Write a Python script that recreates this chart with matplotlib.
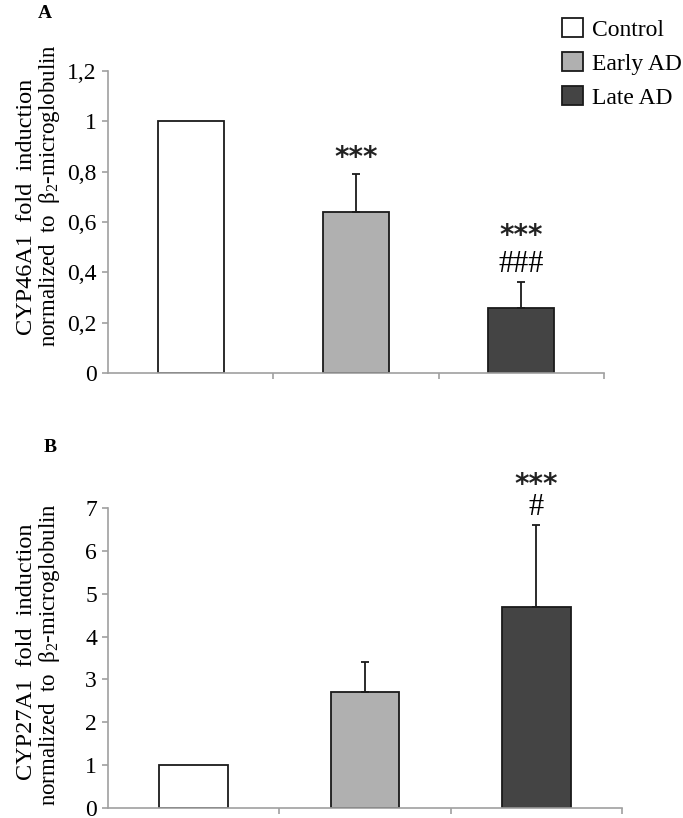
import matplotlib
matplotlib.use("Agg")
import matplotlib.pyplot as plt
from matplotlib.patches import Patch

plt.rcParams['font.family'] = ['Liberation Serif', 'DejaVu Serif']
plt.rcParams['mathtext.default'] = 'regular'

# %% data
groups = ["Control", "Early AD", "Late AD"]
colors = ["#ffffff", "#b0b0b0", "#444444"]

cyp46_mean = [1.0, 0.64, 0.26]
cyp46_err = [0.0, 0.15, 0.10]
cyp46_stars = ["", "***", "***"]
cyp46_hash = ["", "", "###"]
cyp46_ticks = [0, 0.2, 0.4, 0.6, 0.8, 1.0, 1.2]
cyp46_ticklabels = ["0", "0,2", "0,4", "0,6", "0,8", "1", "1,2"]

cyp27_mean = [1.0, 2.7, 4.7]
cyp27_err = [0.0, 0.7, 1.9]
cyp27_stars = ["", "", "***"]
cyp27_hash = ["", "", "#"]
cyp27_ticks = [0, 1, 2, 3, 4, 5, 6, 7]
cyp27_ticklabels = ["0", "1", "2", "3", "4", "5", "6", "7"]

W, H = 683, 818
axis_grey = "#a0a0a0"


def panel(rect, means, errs, stars, hashes, ticks, ticklabels, letter, letter_xy,
          ylab1, ylab2, ylab_y, star_off):
    ax = fig.add_axes([rect[0] / W, 1 - rect[3] / H, (rect[2] - rect[0]) / W, (rect[3] - rect[1]) / H])
    x = range(len(means))
    ax.bar(x, means, width=0.4, color=colors, edgecolor="#1a1a1a", linewidth=1.3, zorder=2)
    for xi, m, e in zip(x, means, errs):
        if e > 0:
            ax.errorbar(xi, m, yerr=[[0], [e]], fmt="none", ecolor="#1a1a1a",
                        elinewidth=1.3, capsize=3, capthick=1.3, zorder=3)
    for xi, m, e, s, h in zip(x, means, errs, stars, hashes):
        if h:
            ax.annotate(h, (xi, m + e), xytext=(0, 18), textcoords="offset pixels",
                        ha="center", va="center", fontsize=22)
        if s:
            off = star_off if h else 16
            ax.annotate(s, (xi, m + e), xytext=(0, off), textcoords="offset pixels",
                        ha="center", va="center", fontsize=20, family="DejaVu Sans",
                        fontweight="bold", color="#222222")
    ax.set_xlim(-0.5, len(means) - 0.5)
    ax.set_ylim(ticks[0], ticks[-1])
    ax.set_yticks(ticks)
    ax.set_yticklabels(ticklabels, fontsize=17)
    ax.set_xticks([0.5 + i for i in range(len(means))])
    ax.set_xticklabels([])
    ax.tick_params(axis="both", color=axis_grey, length=4, width=1.2, direction="out", pad=4)
    for sp in ["top", "right"]:
        ax.spines[sp].set_visible(False)
    for sp in ["left", "bottom"]:
        ax.spines[sp].set_color(axis_grey)
        ax.spines[sp].set_linewidth(1.2)
    fig.text(letter_xy[0] / W, 1 - letter_xy[1] / H, letter, fontsize=14, fontweight="bold",
             ha="center", va="center")
    fig.text(27 / W, 1 - ylab_y[0] / H, ylab1, rotation=90, fontsize=17.5,
             ha="center", va="center")
    fig.text(50 / W, 1 - ylab_y[1] / H, ylab2, rotation=90, fontsize=16.5,
             ha="center", va="center")
    return ax


fig = plt.figure(figsize=(W / 100, H / 100), dpi=100)

axA = panel((108, 71, 604, 373), cyp46_mean, cyp46_err, cyp46_stars, cyp46_hash,
            cyp46_ticks, cyp46_ticklabels, "A", (45, 14),
            "CYP46A1  fold  induction", "normalized  to  β$_2$-microglobulin", (207, 196), 46)
axB = panel((108, 508, 622, 808), cyp27_mean, cyp27_err, cyp27_stars, cyp27_hash,
            cyp27_ticks, cyp27_ticklabels, "B", (50, 448),
            "CYP27A1  fold  induction", "normalized  to  β$_2$-microglobulin", (652, 655), 40)

handles = [Patch(facecolor=c, edgecolor="#1a1a1a", linewidth=1.3) for c in colors]
fig.legend(handles, groups, loc="upper left", bbox_to_anchor=(553 / W, 1 - 9 / H),
           frameon=False, fontsize=17, handlelength=0.85, handleheight=0.85,
           handletextpad=0.4, labelspacing=0.48, borderaxespad=0)

fig.savefig("out.png", dpi=100)
